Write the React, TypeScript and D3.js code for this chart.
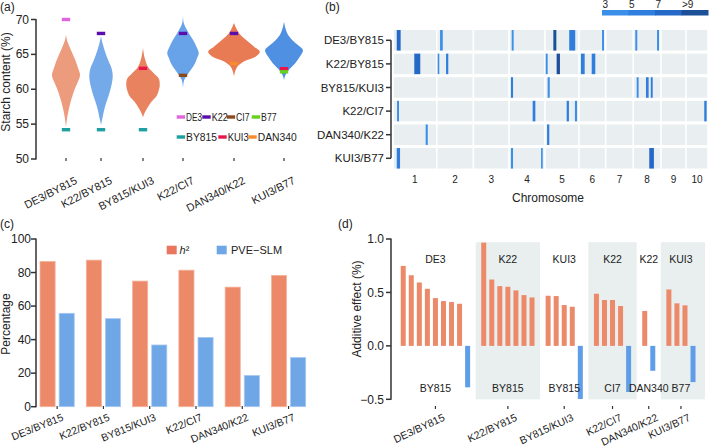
import React from "react";
import * as d3 from "d3";

if (typeof document !== "undefined") {
  document.body.style.margin = "0";
}

// ---------- shared categories ----------
const crosses = ["DE3/BY815", "K22/BY815", "BY815/KUI3", "K22/CI7", "DAN340/K22", "KUI3/B77"];

// ---------- panel (a): starch content violins ----------
// [starch %, density]
const violinDensity: [number, number][][] = [
  [[67.8, 0], [67, 0.013], [65.6, 0.058], [64.2, 0.107], [63, 0.14], [62, 0.162], [61, 0.135], [59.9, 0.097], [58, 0.049], [56.1, 0.016], [54.6, 0]],
  [[67.6, 0], [66.5, 0.02], [65, 0.058], [64, 0.088], [63, 0.122], [62, 0.135], [61, 0.128], [59.4, 0.096], [57.5, 0.046], [55.6, 0.012], [54.9, 0]],
  [[65.9, 0], [64.5, 0.019], [63.2, 0.058], [62.3, 0.125], [61.5, 0.183], [60.5, 0.193], [59.9, 0.183], [59, 0.154], [58.2, 0.097], [57.5, 0.058], [56.5, 0.015], [56, 0]],
  [[70.6, 0], [69.5, 0.009], [68.5, 0.046], [67.1, 0.115], [66.1, 0.155], [65.2, 0.182], [64.5, 0.164], [63.7, 0.138], [62.8, 0.091], [62, 0.046], [61.2, 0.011], [60.1, 0]],
  [[69.5, 0], [68.8, 0.024], [68, 0.06], [67.1, 0.137], [66.1, 0.232], [65.4, 0.298], [64.7, 0.253], [64, 0.119], [63.2, 0.036], [62.5, 0.012], [61.8, 0]],
  [[69.7, 0], [68.8, 0.015], [67.8, 0.046], [66.8, 0.116], [66.2, 0.175], [65.6, 0.219], [64.7, 0.184], [63.7, 0.127], [62.8, 0.057], [62, 0.015], [61.3, 0]],
];
const parentNames = ["DE3", "K22", "CI7", "B77", "BY815", "KUI3", "DAN340"];
const parentValues: [string, number][][] = [
  [["DE3", 70.0], ["BY815", 54.2]],
  [["K22", 68.0], ["BY815", 54.2]],
  [["KUI3", 63.0], ["BY815", 54.2]],
  [["K22", 68.0], ["CI7", 62.0]],
  [["K22", 68.0], ["DAN340", 63.7]],
  [["KUI3", 62.95], ["B77", 62.5]],
];
const starchTicks = [50, 55, 60, 65, 70];

// ---------- panel (b): QTL map ----------
const chromosomes = ["1", "2", "3", "4", "5", "6", "7", "8", "9", "10"];
const chromLengths = [292, 244, 238, 240, 227, 178, 184, 185, 167, 147];
// [cross index, chromosome, start, end, LOD]
const qtls: [number, number, number, number, number][] = [
  [0, 1, 25, 51, 8], [0, 2, 22, 40, 4], [0, 4, 18, 31, 4], [0, 5, 56, 76, 10], [0, 5, 162, 202, 6], [0, 6, 154, 167, 4], [0, 8, 14, 27, 4], [0, 8, 159, 172, 4],
  [1, 1, 142, 182, 8], [1, 2, 6, 17, 4], [1, 2, 62, 77, 6], [1, 5, 5, 18, 4], [1, 5, 78, 100, 10], [1, 6, 13, 38, 6], [1, 6, 85, 109, 6],
  [2, 4, 13, 27, 5.5], [2, 5, 18, 32, 4], [2, 8, 23, 36, 4], [2, 8, 85, 103, 6], [2, 8, 117, 130, 6],
  [3, 1, 27, 40, 4], [3, 4, 158, 176, 6], [3, 5, 145, 160, 6], [3, 5, 200, 214, 4], [3, 10, 122, 138, 6],
  [4, 1, 218, 232, 4.5], [4, 5, 14, 29, 6],
  [5, 1, 25, 47, 6], [5, 4, 13, 27, 4], [5, 4, 214, 225, 4], [5, 8, 107, 138, 8],
];
const lodBreaks = [5, 7, 9];
const lodLabels = ["3", "5", "7", ">9"];

// ---------- panel (c): heritability ----------
const h2 = [86.6, 87.4, 74.9, 81.4, 71.3, 78.3];
const pveSlm = [55.7, 52.5, 36.8, 41.3, 18.6, 29.3];
const pctTicks = [0, 20, 40, 60, 80, 100];

// ---------- panel (d): additive effects ----------
const donorParent = ["DE3", "K22", "KUI3", "K22", "K22", "KUI3"];
const otherParent = ["BY815", "BY815", "BY815", "CI7", "DAN340", "B77"];
const positiveEffects = [
  [0.748, 0.661, 0.593, 0.534, 0.447, 0.419, 0.41, 0.394],
  [0.966, 0.621, 0.559, 0.553, 0.519, 0.475, 0.453],
  [0.469, 0.466, 0.382, 0.366],
  [0.488, 0.429, 0.429, 0.373],
  [0.326],
  [0.528, 0.398, 0.379],
];
const negativeEffects = [[-0.388], [], [-0.497], [-0.432], [-0.233], [-0.339]];
const effectTicks = [-0.5, 0, 0.5, 1];

// ---------- styles ----------
const FONT = "'Liberation Sans', Arial, Helvetica, sans-serif";
const AX = "#333";
const TXT = "#222";
const violinFill = ["#ec9b7d", "#74aaea", "#e8825f", "#68a3ea", "#e87a54", "#4f90e3"];
const parentColor: Record<string, string> = {
  DE3: "#e164df", K22: "#5b0eab", CI7: "#8a4a1c", B77: "#66d11e",
  BY815: "#1f9f9f", KUI3: "#e8164c", DAN340: "#f68c2c",
};
const lodColors = ["#3c8fe9", "#2f7edd", "#2468c8", "#1c4f98"];
const ORANGE = "#eb8969";
const BLUE = "#6fa6e6";

function PanelA() {
  const y = d3.scaleLinear().domain([50, 70]).range([159, 19.5]);
  const x = d3.scaleOrdinal<string, number>().domain(crosses).range([66, 101, 143, 183, 234, 284]);
  const w = d3.scaleLinear().domain([0, 0.3]).range([0, 26]);
  // legend layout: [marker x, row y, text length]
  const legendPos: Record<string, [number, number, number]> = {
    DE3: [176.7, 117, 16], K22: [202.3, 117, 16], CI7: [226.7, 117, 13.5], B77: [251.7, 117, 15.5],
    BY815: [176.7, 137, 31], KUI3: [218.3, 137, 21], DAN340: [248.3, 137, 39],
  };
  return (
    <g>
      <text x={0} y={11} fontSize={12} fill={TXT}>(a)</text>
      {crosses.map((c, i) => {
        const cx = x(c);
        const area = d3.area<[number, number]>()
          .y((d) => y(d[0]))
          .x0((d) => cx - w(d[1]))
          .x1((d) => cx + w(d[1]))
          .curve(d3.curveCatmullRom);
        return <path key={c} d={area(violinDensity[i]) || ""} fill={violinFill[i]} />;
      })}
      {crosses.map((c, i) =>
        parentValues[i].map(([p, v]) => (
          <rect key={c + p} x={x(c) - 4.2} y={y(v) - 1.7} width={8.4} height={3.4} fill={parentColor[p]} />
        ))
      )}
      {/* axis */}
      <line x1={36} x2={36} y1={y(70) - 0.5} y2={y(50) + 0.5} stroke={AX} strokeWidth={1.5} />
      {starchTicks.map((t) => (
        <g key={t}>
          <line x1={31} x2={36} y1={y(t)} y2={y(t)} stroke={AX} strokeWidth={1.5} />
          <text x={29} y={y(t) + 4} fontSize={12} textAnchor="end" fill={TXT}>{t}</text>
        </g>
      ))}
      {crosses.map((c) => (
        <g key={c}>
          <line x1={x(c)} x2={x(c)} y1={158} y2={161} stroke={AX} strokeWidth={1.2} />
          <text transform={`translate(${x(c) + 12},${183}) rotate(-27)`} fontSize={11} textAnchor="end" fill={TXT}>{c}</text>
        </g>
      ))}
      <text transform={`translate(10,${82}) rotate(-90)`} fontSize={12} textAnchor="middle" fill={TXT}>Starch content (%)</text>
      {parentNames.map((p) => {
        const [lx, ly, tl] = legendPos[p];
        return (
          <g key={p}>
            <rect x={lx} y={ly - 1.7} width={8.4} height={3.4} fill={parentColor[p]} />
            <text x={lx + 9.4} y={ly + 3.8} fontSize={10.5} fill={TXT} textLength={tl} lengthAdjust="spacingAndGlyphs">{p}</text>
          </g>
        );
      })}
    </g>
  );
}

function PanelB() {
  const cum = d3.cumsum(chromLengths);
  const starts = chromLengths.map((l, i) => cum[i] - l);
  const total = cum[cum.length - 1];
  const x = d3.scaleLinear().domain([0, total]).range([393, 708]);
  const y = d3.scaleBand<string>().domain(crosses).range([28.5, 170.1]).paddingInner(0.13).paddingOuter(0.065);
  const color = d3.scaleThreshold<number, string>().domain(lodBreaks).range(lodColors);
  const legX = d3.scaleBand<string>().domain(lodLabels).range([602, 708]);
  return (
    <g>
      <text x={325} y={11} fontSize={12} fill={TXT}>(b)</text>
      {/* color legend */}
      {lodLabels.map((l, i) => (
        <g key={l}>
          <rect x={legX(l)!} y={10} width={legX.bandwidth() + 0.5} height={5.5} fill={lodColors[i]} />
          <text x={legX(l)! + 0.5} y={8} fontSize={10} fill={TXT}>{l}</text>
        </g>
      ))}
      {crosses.map((c) =>
        chromosomes.map((ch, j) => (
          <rect key={c + ch} x={x(starts[j]) + 0.8} y={y(c)!} width={x(cum[j]) - x(starts[j]) - 1.6} height={y.bandwidth()} fill="#e9eff0" />
        ))
      )}
      {qtls.map(([ci, ch, s, e, lod], k) => (
        <rect key={k} x={x(starts[ch - 1] + s)} y={y(crosses[ci])!} width={x(starts[ch - 1] + e) - x(starts[ch - 1] + s)} height={y.bandwidth()} fill={color(lod)} />
      ))}
      {/* y axis bracket */}
      <line x1={391} x2={391} y1={y(crosses[0])! + y.bandwidth() / 2} y2={y(crosses[5])! + y.bandwidth() / 2} stroke={AX} strokeWidth={1.5} />
      {crosses.map((c) => (
        <g key={c}>
          <line x1={386} x2={391} y1={y(c)! + y.bandwidth() / 2} y2={y(c)! + y.bandwidth() / 2} stroke={AX} strokeWidth={1.5} />
          <text x={384} y={y(c)! + y.bandwidth() / 2 + 4} fontSize={11.5} textAnchor="end" fill={TXT}>{c}</text>
        </g>
      ))}
      {chromosomes.map((ch, j) => (
        <text key={ch} x={x(starts[j] + chromLengths[j] / 2)} y={183} fontSize={10} textAnchor="middle" fill={TXT}>{ch}</text>
      ))}
      <text x={548} y={202} fontSize={12} textAnchor="middle" fill={TXT}>Chromosome</text>
    </g>
  );
}

function PanelC() {
  const y = d3.scaleLinear().domain([0, 100]).range([406.7, 239]);
  const x = d3.scaleBand<string>().domain(crosses).range([34, 311.7]).paddingInner(0.26).paddingOuter(0.13);
  const series = ["h2", "pve"];
  const xs = d3.scaleBand<string>().domain(series).range([0, x.bandwidth()]).paddingInner(0.21);
  const vals = [h2, pveSlm];
  const fills = [ORANGE, BLUE];
  const strokes = ["#f5b29c", "#a8c9f2"];
  return (
    <g>
      <text x={0} y={228} fontSize={12} fill={TXT}>(c)</text>
      {crosses.map((c, i) =>
        series.map((s, k) => (
          <rect key={c + s} x={x(c)! + xs(s)!} y={y(vals[k][i])} width={xs.bandwidth()} height={y(0) - y(vals[k][i])} fill={fills[k]} stroke={strokes[k]} strokeWidth={0.8} />
        ))
      )}
      <line x1={36} x2={36} y1={y(100) - 0.5} y2={y(0) + 0.5} stroke={AX} strokeWidth={1.5} />
      {pctTicks.map((t) => (
        <g key={t}>
          <line x1={31} x2={36} y1={y(t)} y2={y(t)} stroke={AX} strokeWidth={1.5} />
          <text x={31} y={y(t) + 4.2} fontSize={12} textAnchor="end" fill={TXT}>{t}</text>
        </g>
      ))}
      {crosses.map((c) => {
        const cx = x(c)! + x.bandwidth() / 2;
        return (
          <g key={c}>
            <line x1={cx} x2={cx} y1={406} y2={409} stroke={AX} strokeWidth={1.2} />
            <text transform={`translate(${cx + 7},${420}) rotate(-22)`} fontSize={10.5} textAnchor="end" fill={TXT}>{c}</text>
          </g>
        );
      })}
      <text transform={`translate(10,${324}) rotate(-90)`} fontSize={12} textAnchor="middle" fill={TXT}>Percentage</text>
      <rect x={166.7} y={245.7} width={10} height={8.6} fill="#e9765f" />
      <text x={179.5} y={254.3} fontSize={11} fill={TXT}><tspan fontStyle="italic">h</tspan>²</text>
      <rect x={216.7} y={245.7} width={10} height={8.6} fill={BLUE} />
      <text x={231} y={254.3} fontSize={11} fill={TXT}>PVE−SLM</text>
    </g>
  );
}

function PanelD() {
  const y = d3.scaleLinear().domain([-0.5, 1]).range([399.3, 239]);
  // slot layout: positive bars, negative bars, one empty slot per group
  const slots: { g: number; v: number | null }[] = [];
  const groupSlots: number[][] = [];
  crosses.forEach((_, g) => {
    const idx: number[] = [];
    positiveEffects[g].forEach((v) => { idx.push(slots.length); slots.push({ g, v }); });
    negativeEffects[g].forEach((v) => { idx.push(slots.length); slots.push({ g, v }); });
    groupSlots.push(idx);
    if (g < crosses.length - 1) slots.push({ g, v: null });
  });
  const x = d3.scaleBand<number>().domain(d3.range(slots.length)).range([399.2, 399.2 + 8.05 * slots.length]).paddingInner(0.38).paddingOuter(0.19);
  const ctr = (i: number) => x(i)! + x.bandwidth() / 2;
  const step = x.step();
  const plotRight = 705;
  return (
    <g>
      <text x={338} y={228} fontSize={12} fill={TXT}>(d)</text>
      {crosses.map((c, g) => {
        if (g % 2 === 0) return null;
        const idx = groupSlots[g];
        const x0 = ctr(idx[0]) - step;
        const x1 = g === crosses.length - 1 ? plotRight : ctr(idx[idx.length - 1]) + step;
        return <rect key={c} x={x0} y={y(0.97)} width={x1 - x0} height={y(-0.5) - y(0.97)} fill="#e8efee" />;
      })}
      {slots.map((s, i) =>
        s.v === null ? null : (
          <rect key={i} x={x(i)!} y={y(Math.max(0, s.v))} width={x.bandwidth()} height={Math.abs(y(s.v) - y(0))} fill={s.v > 0 ? ORANGE : "#5e9de8"} />
        )
      )}
      <line x1={391} x2={391} y1={y(1) - 0.5} y2={y(-0.5) + 0.5} stroke={AX} strokeWidth={1.5} />
      {effectTicks.map((t) => (
        <g key={t}>
          <line x1={386} x2={391} y1={y(t)} y2={y(t)} stroke={AX} strokeWidth={1.5} />
          <text x={384} y={y(t) + 4.2} fontSize={12} textAnchor="end" fill={TXT}>{d3.format(".1f")(t)}</text>
        </g>
      ))}
      {crosses.map((c, g) => {
        const idx = groupSlots[g];
        const cx = (ctr(idx[0]) + ctr(idx[idx.length - 1])) / 2;
        return (
          <g key={c}>
            <text x={cx} y={263} fontSize={10.5} textAnchor="middle" fill={TXT}>{donorParent[g]}</text>
            <text x={cx} y={392} fontSize={10.5} textAnchor="middle" fill={TXT}>{otherParent[g]}</text>
            <line x1={cx} x2={cx} y1={406} y2={409} stroke={AX} strokeWidth={1.2} />
            <text transform={`translate(${cx + 10},${420}) rotate(-25)`} fontSize={10.5} textAnchor="end" fill={TXT}>{c}</text>
          </g>
        );
      })}
      <text transform={`translate(361,${309}) rotate(-90)`} fontSize={12} textAnchor="middle" fill={TXT}>Additive effect (%)</text>
    </g>
  );
}

export default function App() {
  return (
    <svg width={709} height={448} viewBox="0 0 709 448" style={{ display: "block", fontFamily: FONT, background: "#fff" }}>
      <rect width={709} height={448} fill="#fff" />
      <PanelA />
      <PanelB />
      <PanelC />
      <PanelD />
    </svg>
  );
}
